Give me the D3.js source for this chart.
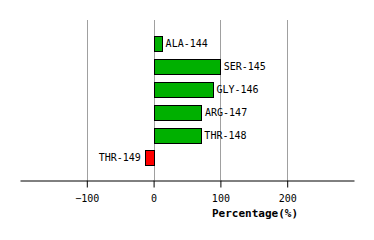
<!DOCTYPE html>
<html>
<head>
<meta charset="utf-8">
<script src="https://cdn.jsdelivr.net/npm/d3@7"></script>
<style>
  body { margin: 0; background: #fff; }
  text { font-family: "DejaVu Sans Mono", monospace; }
</style>
</head>
<body>
<div id="chart"></div>
<script>
// Data
var residues = ["ALA-144", "SER-145", "GLY-146", "ARG-147", "THR-148", "THR-149"];
var percentages = [12, 99, 88, 71, 70, -13];
var tickValues = [-100, 0, 100, 200];

var svgWidth = 374;
var svgHeight = 240;

var svg = d3.select("#chart")
  .append("svg")
  .attr("width", svgWidth)
  .attr("height", svgHeight);

// Scales
var xScale = d3.scaleLinear()
  .domain([-200, 300])
  .range([20, 354]);

var yScale = d3.scaleBand()
  .domain(residues)
  .range([32.4, 169.4])
  .paddingInner(0.34)
  .paddingOuter(0.17);

var axisY = 180;

// Vertical grid lines
svg.append("g")
  .selectAll("line")
  .data(tickValues)
  .enter()
  .append("line")
  .attr("x1", d => Math.round(xScale(d)) + 0.5)
  .attr("x2", d => Math.round(xScale(d)) + 0.5)
  .attr("y1", 20)
  .attr("y2", axisY)
  .attr("stroke", "#a0a0a0")
  .attr("stroke-width", 1);

// Bars
var data = residues.map((r, i) => ({ name: r, value: percentages[i] }));

svg.append("g")
  .selectAll("rect")
  .data(data)
  .enter()
  .append("rect")
  .attr("x", d => Math.round(xScale(Math.min(0, d.value))) + 0.5)
  .attr("y", d => Math.round(yScale(d.name)) + 0.5)
  .attr("width", d => Math.round(Math.abs(xScale(d.value) - xScale(0))))
  .attr("height", Math.round(yScale.bandwidth()))
  .attr("fill", d => d.value >= 0 ? "#00b000" : "#ff0000")
  .attr("stroke", "#000")
  .attr("stroke-width", 1);

// Bar labels
svg.append("g")
  .selectAll("text")
  .data(data)
  .enter()
  .append("text")
  .attr("x", d => d.value >= 0 ? xScale(d.value) + 4 : xScale(d.value) - 4)
  .attr("y", d => yScale(d.name) + yScale.bandwidth() / 2)
  .attr("dy", "0.35em")
  .attr("text-anchor", d => d.value >= 0 ? "start" : "end")
  .attr("font-size", "10px")
  .attr("fill", "#000")
  .text(d => d.name);

// Bottom axis
var bottomAxis = d3.axisBottom(xScale)
  .tickValues(tickValues)
  .tickSize(7)
  .tickSizeOuter(0);

var axisGroup = svg.append("g")
  .attr("transform", "translate(0," + (axisY + 0.5) + ")")
  .call(bottomAxis);

axisGroup.select(".domain").attr("stroke", "#000");
axisGroup.selectAll(".tick line").attr("stroke", "#000");
axisGroup.selectAll(".tick text")
  .attr("font-family", "DejaVu Sans Mono, monospace")
  .attr("font-size", "10px")
  .attr("fill", "#000")
  .attr("y", 14);

// Axis title
svg.append("text")
  .attr("x", 255)
  .attr("y", 217)
  .attr("text-anchor", "middle")
  .attr("font-size", "11px")
  .attr("font-weight", "bold")
  .attr("fill", "#000")
  .text("Percentage(%)");
</script>
</body>
</html>
